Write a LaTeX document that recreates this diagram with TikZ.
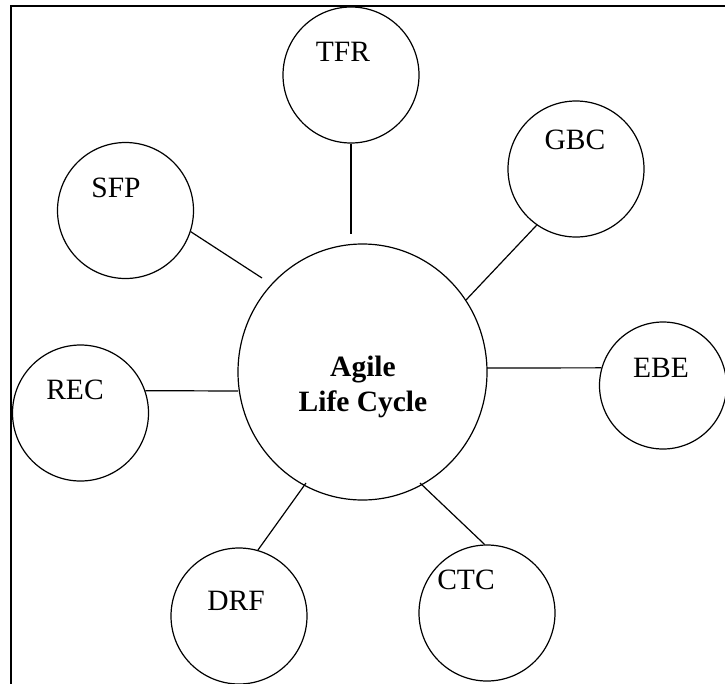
\documentclass[tikz,border=0pt]{standalone}
\usepackage{fontspec}
\setmainfont{Liberation Serif}
\usetikzlibrary{shapes.geometric}
\begin{document}
\begin{tikzpicture}[x=1pt,y=-1pt,
  bubble/.style={circle,draw,line width=1.2pt,inner sep=0pt,minimum size=136pt},
  lbl/.style={inner sep=0pt,font=\fontsize{29.5}{35}\selectfont},
  link/.style={line width=1.2pt},
  frame/.style={line width=2pt}]
\useasboundingbox (0,0) rectangle (725,683);
% frame (top and left edges only visible)
\coordinate (fa) at (11,690);
\coordinate (fb) at (11,6);
\coordinate (fc) at (730,6);
\draw[frame] (fa) -- (fb) -- (fc);
% central ellipse
\node[ellipse,draw,line width=1.2pt,inner sep=0pt,minimum width=249pt,minimum height=256pt] (alc) at (362.5,372) {};
\node[lbl,align=center,font=\fontsize{29.5}{35}\selectfont\bfseries] (alct) at (363,387) {Agile\\Life Cycle};
% satellites
\node[bubble] (tfr) at (351,75) {};
\node[lbl] (tfrt) at (343,52) {TFR};
\node[bubble] (gbc) at (576,169) {};
\node[lbl] (gbct) at (575,140) {GBC};
\node[bubble] (sfp) at (125.5,210.5) {};
\node[lbl] (sfpt) at (116,188) {SFP};
\node[bubble] (rec) at (80.5,413) {};
\node[lbl] (rect) at (75,390) {REC};
\node[bubble,minimum size=127pt] (ebe) at (663,385.5) {};
\node[lbl] (ebet) at (661,368) {EBE};
\node[bubble] (drf) at (239,616) {};
\node[lbl] (drft) at (236,601) {DRF};
\node[bubble] (ctc) at (487,613) {};
\node[lbl] (ctct) at (466,580) {CTC};
% connector free ends
\coordinate (etfr) at (351,234);
\coordinate (egbc) at (466,300);
\coordinate (esfp) at (262,278);
\coordinate (erec) at (238,391);
\coordinate (eebe) at (487,368);
\coordinate (edrf) at (306,483);
\coordinate (ectc) at (420,483);
\draw[link] (tfr.south) -- (etfr);
\draw[link] (gbc.235) -- (egbc);
\draw[link] (sfp.-18) -- (esfp);
\draw[link] (rec.19) -- (erec);
\draw[link] (ebe.164) -- (eebe);
\draw[link] (drf.74) -- (edrf);
\draw[link] (ctc.92) -- (ectc);
\end{tikzpicture}
\end{document}
